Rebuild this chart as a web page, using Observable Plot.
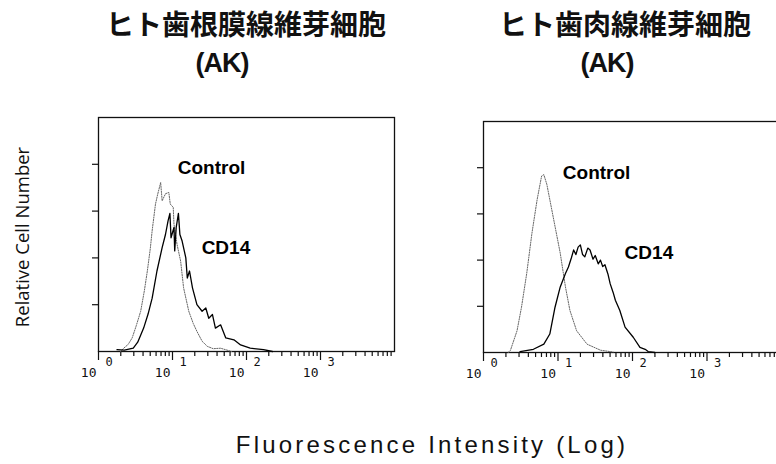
<!DOCTYPE html>
<html><head><meta charset="utf-8">
<script src="https://cdn.jsdelivr.net/npm/d3@7"></script>
<script src="https://cdn.jsdelivr.net/npm/@observablehq/plot@0.6"></script>
<style>
html,body{margin:0;padding:0;background:#fff;overflow:hidden;width:776px;height:464px}
#root{position:relative;width:776px;height:464px;overflow:hidden;background:#fff}
.t{position:absolute;transform:translate(-50%,-50%);white-space:nowrap;line-height:1;color:#111}
.panel{position:absolute}
.panel svg{max-width:none !important}
</style></head><body><div id="root"></div>
<script>
// ---- texts ----
const panelTitles = ["ヒト歯根膜線維芽細胞", "ヒト歯肉線維芽細胞"];
const panelSubtitle = "(AK)";
const yAxisTitle = "Relative Cell Number";
const xAxisTitle = "Fluorescence Intensity (Log)";
const seriesNames = ["Control", "CD14"];

// ---- axis ticks ----
const decades = [1, 10, 100, 1000];
const exponents = ["0", "1", "2", "3"];
const yTicks = [1, 2, 3, 4];
const minorTicks = [2,3,4,5,6,7,8,9,20,30,40,50,60,70,80,90,200,300,400,500,600,700,800,900,2000,3000,4000,5000,6000,7000,8000,9000];

// ---- data: log10(fluorescence intensity) and relative cell number ----
// Panel 1: periodontal ligament fibroblasts
const p1ControlLog   = [0.30,0.34,0.40,0.455,0.51,0.57,0.62,0.66,0.70,0.725,0.77,0.80,0.84,0.86,0.905,0.95,0.97,1.01,1.02,1.06,1.11,1.15,1.22,1.28,1.33,1.40,1.47,1.55,1.65,1.80];
const p1ControlCount = [0.00,0.07,0.15,0.29,0.55,0.86,1.30,1.72,2.20,2.58,3.15,3.36,3.61,3.22,3.37,3.40,3.15,3.08,2.72,2.30,1.93,1.36,0.86,0.60,0.43,0.22,0.11,0.06,0.07,0.00];
const p1CD14Log      = [0.25,0.35,0.47,0.53,0.61,0.67,0.725,0.79,0.86,0.905,0.94,0.965,0.98,1.02,1.03,1.05,1.08,1.10,1.13,1.18,1.20,1.23,1.27,1.33,1.40,1.45,1.49,1.54,1.58,1.65,1.72,1.83,1.92,2.05,2.23,2.35];
const p1CD14Count    = [0.04,0.03,0.07,0.20,0.50,0.80,1.14,1.72,2.22,2.50,2.79,2.95,2.43,2.65,2.15,2.65,2.95,2.50,2.36,2.00,1.57,1.72,1.36,1.00,0.86,0.93,0.71,0.79,0.50,0.57,0.29,0.25,0.14,0.07,0.04,0.00];
// Panel 2: gingival fibroblasts
const p2ControlLog   = [0.33,0.36,0.45,0.51,0.58,0.65,0.72,0.78,0.81,0.85,0.89,0.96,1.03,1.10,1.16,1.25,1.39,1.57,1.74];
const p2ControlCount = [0.00,0.04,0.47,0.98,1.71,2.58,3.31,3.82,3.85,3.64,3.31,2.73,2.15,1.42,0.91,0.47,0.18,0.05,0.01];
const p2CD14Log      = [0.49,0.67,0.81,0.89,0.96,1.03,1.10,1.14,1.18,1.21,1.24,1.27,1.30,1.33,1.36,1.40,1.43,1.47,1.50,1.54,1.57,1.60,1.63,1.67,1.70,1.74,1.77,1.83,1.90,2.01,2.10,2.17,2.21,2.30];
const p2CD14Count    = [0.02,0.07,0.18,0.40,0.98,1.42,1.71,1.85,2.05,2.22,2.12,2.28,2.33,2.12,2.07,2.26,2.22,2.02,2.10,1.92,2.00,1.86,1.90,1.70,1.49,1.30,1.13,0.91,0.55,0.33,0.11,0.07,0.02,0.00];

// ---- annotation anchors (intensity, count) ----
const p1LabelX = [33.7, 52.7], p1LabelY = [3.93, 2.21];
const p2LabelX = [33, 166],    p2LabelY = [3.89, 2.16];

const toRows = (L, C) => L.map((l, i) => ({x: Math.pow(10, l), y: C[i]}));

function panel({left, top, width, height, mL, mR, mT, mB, ctrl, cd14, labX, labY}) {
  const labels = seriesNames.map((s, i) => ({s, x: labX[i], y: labY[i]}));
  const chart = Plot.plot({
    width, height,
    marginLeft: mL, marginRight: mR, marginTop: mT, marginBottom: mB,
    style: {background: "transparent", color: "#111", fontFamily: "Liberation Sans, Arial, sans-serif"},
    x: {type: "log", domain: [1, 10000]},
    y: {domain: [0, 5]},
    marks: [
      Plot.axisY({ticks: yTicks, tickSize: 6, tickFormat: () => "", label: null, strokeWidth: 1.2}),
      Plot.axisX({ticks: minorTicks, tickSize: 5, tickFormat: () => "", label: null, strokeWidth: 1.2}),
      Plot.axisX({ticks: decades, tickSize: 9, tickFormat: () => "", label: null, strokeWidth: 1.2}),
      Plot.frame({stroke: "#111", strokeWidth: 1.3}),
      Plot.text(decades, {x: d => d, frameAnchor: "bottom", lineAnchor: "middle", text: () => "10", textAnchor: "end", dx: -2, dy: 21,
        fontFamily: "DejaVu Sans Mono", fontSize: 13, fill: "#111"}),
      Plot.text(decades, {x: d => d, frameAnchor: "bottom", lineAnchor: "middle", text: (d, i) => exponents[i], textAnchor: "start", dx: 7, dy: 11,
        fontFamily: "DejaVu Sans Mono", fontSize: 12, fill: "#111"}),
      Plot.line(ctrl, {x: "x", y: "y", stroke: "#666", strokeWidth: 1, strokeDasharray: "1.2,1.3"}),
      Plot.line(cd14, {x: "x", y: "y", stroke: "#000", strokeWidth: 1.3}),
      Plot.text(labels, {x: "x", y: "y", text: "s", fontSize: 19, fontWeight: "bold", fill: "#000",
        fontFamily: "Liberation Sans, Arial, sans-serif"})
    ]
  });
  const div = document.createElement("div");
  div.className = "panel";
  div.style.left = left + "px"; div.style.top = top + "px"; div.style.width = width + "px";
  div.appendChild(chart);
  document.getElementById("root").appendChild(div);
}

panel({left: 0, top: 100, width: 420, height: 300, mL: 98, mR: 26, mT: 17, mB: 49,
  ctrl: toRows(p1ControlLog, p1ControlCount), cd14: toRows(p1CD14Log, p1CD14Count), labX: p1LabelX, labY: p1LabelY});
panel({left: 400, top: 100, width: 390, height: 300, mL: 83, mR: 9, mT: 21, mB: 48,
  ctrl: toRows(p2ControlLog, p2ControlCount), cd14: toRows(p2CD14Log, p2CD14Count), labX: p2LabelX, labY: p2LabelY});

function addText(txt, x, y, css) {
  const d = document.createElement("div");
  d.className = "t"; d.textContent = txt;
  d.style.left = x + "px"; d.style.top = y + "px";
  Object.assign(d.style, css);
  document.getElementById("root").appendChild(d);
  return d;
}
const cjk = {fontFamily: "'Noto Sans CJK JP', sans-serif", fontSize: "28px", fontWeight: "bold"};
const ak = {fontFamily: "'Liberation Sans', Arial, sans-serif", fontSize: "27px", fontWeight: "bold", letterSpacing: "-1px"};
addText(panelTitles[0], 246, 23, cjk);
addText(panelTitles[1], 625, 23, cjk);
addText(panelSubtitle, 222, 63, ak);
addText(panelSubtitle, 607, 63, ak);
const yl = addText(yAxisTitle, 22, 237, {fontFamily: "'Open Sans', sans-serif", fontSize: "18.5px"});
yl.style.transform = "translate(-50%,-50%) rotate(-90deg)";
addText(xAxisTitle, 432, 445, {fontFamily: "'Liberation Sans', Arial, sans-serif", fontSize: "24px", letterSpacing: "3.2px"});
</script></body></html>
